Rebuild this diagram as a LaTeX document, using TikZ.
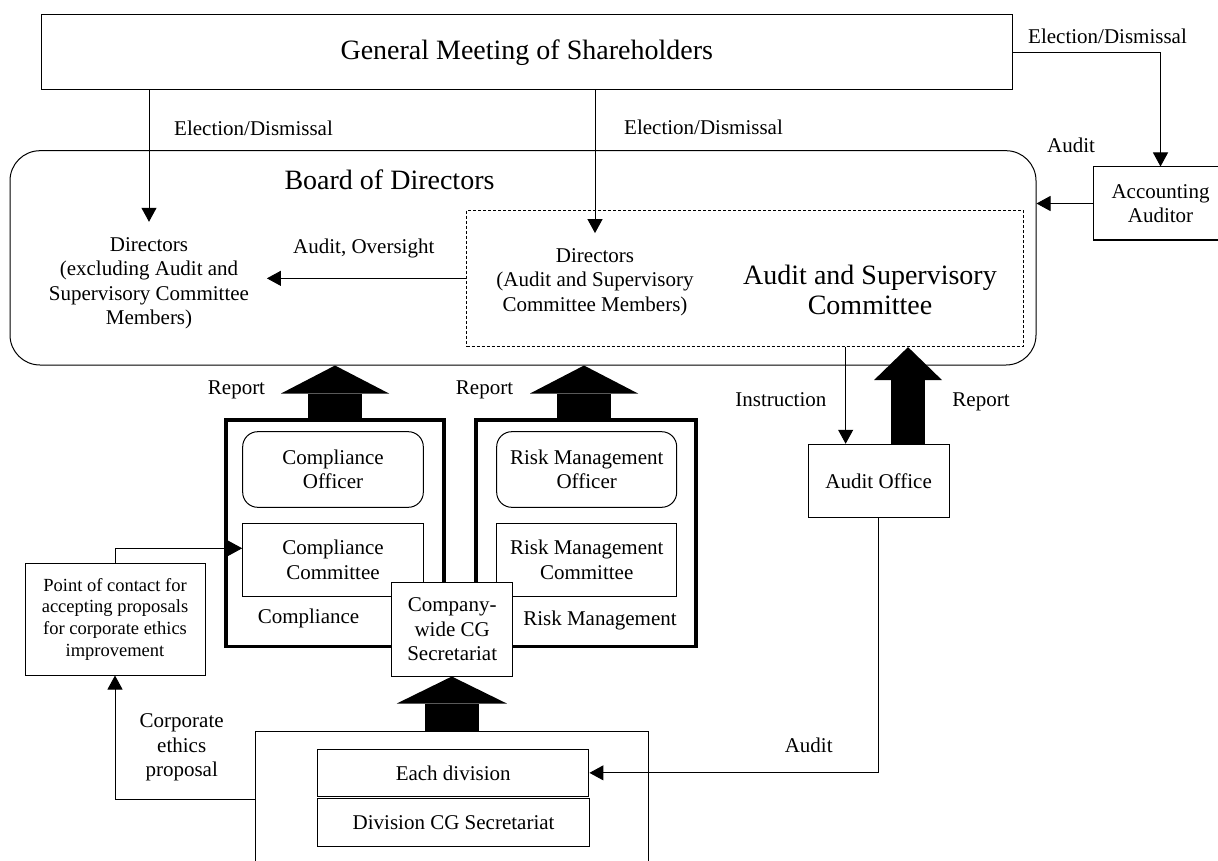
\documentclass[tikz,border=0pt]{standalone}
\usepackage{fontspec}
\setmainfont{Liberation Serif}
\usetikzlibrary{arrows.meta}
\newcommand\fsn{\fontsize{21}{24.4}\selectfont}
\newcommand\fsl{\fontsize{28}{30}\selectfont}
\newcommand\fss{\fontsize{18.5}{21.7}\selectfont}
\begin{document}
\begin{tikzpicture}[x=1pt,y=-1pt,
  every node/.style={inner sep=0pt, align=center, font=\fsn},
  box/.style={draw, line width=1pt},
  thickbox/.style={draw, line width=3.3pt},
  arr/.style={line width=1pt, -{Triangle[width=15pt,length=14pt]}},
  fatA/.style={line width=54pt, -{Triangle[width=108pt,length=28pt,line width=0pt]}},
  fatB/.style={line width=34pt, -{Triangle[width=68pt,length=33pt,line width=0pt]}},
  fatC/.style={line width=54.6pt, -{Triangle[width=110pt,length=27pt,line width=0pt]}}
]
\useasboundingbox (0,0) rectangle (1218,861);

% top
\node[box, minimum width=970.5pt, minimum height=75pt, font=\fsl] (gms) at (526.75,52.5) {General Meeting of Shareholders};
\node[box, rounded corners=30pt, minimum width=1026pt, minimum height=214.3pt] (board) at (523,257.85) {};
\node[font=\fsl] (boardt) at (389.5,180) {Board of Directors};
\node[draw, line width=0.8pt, dash pattern=on 3pt off 2pt, minimum width=556.3pt, minimum height=136.7pt] (dash) at (744.85,278.35) {};
\node[minimum width=235.4pt, minimum height=122.8pt] (dirL) at (149,283.4) {Directors\\(excluding Audit and\\Supervisory Committee\\Members)};
\node[minimum height=97.4pt] (dirM) at (595,282) {Directors\\(Audit and Supervisory\\Committee Members)};
\node[font=\fsl] (asc) at (870,290) {Audit and Supervisory\\Committee};
\node[box, minimum width=135pt, minimum height=73pt] (aa) at (1160.5,203.5) {Accounting\\Auditor};

\node[anchor=west] (l1) at (174,128) {Election/Dismissal};
\node[anchor=west] (l2) at (624,127) {Election/Dismissal};
\node[anchor=west] (l3) at (1028,36) {Election/Dismissal};
\node[anchor=west] (l4) at (1047,145) {Audit};
\node[anchor=west] (l5) at (293,248.3) {Audit, Oversight};

\draw[arr] (gms.south -| dirL.north) -- (dirL.north);
\draw[arr] (gms.south -| dirM.north) -- (dirM.north);
\draw[arr] (gms.east) -| (aa.north);
\draw[arr] (aa.west) -- (aa.west -| board.east);
\draw[arr] (dash.west) -- (dash.west -| dirL.east);

% middle
\node[thickbox, minimum width=218pt, minimum height=226.7pt] (comp) at (335,533.35) {};
\node[thickbox, minimum width=220pt, minimum height=226.7pt] (risk) at (586,533.35) {};
\node[box, rounded corners=15pt, minimum width=180.6pt, minimum height=75.6pt] (compOff) at (333,469.5) {Compliance\\Officer};
\node[box, minimum width=180.6pt, minimum height=72.7pt] (compCom) at (333,559.65) {Compliance\\Committee};
\node[box, rounded corners=15pt, minimum width=180pt, minimum height=75.6pt] (riskOff) at (586.7,469.5) {Risk Management\\Officer};
\node[box, minimum width=180pt, minimum height=72.7pt] (riskCom) at (586.7,559.65) {Risk Management\\Committee};
\node (compL) at (308.5,618.3) {Compliance};
\node (riskL) at (600,620) {Risk Management};
\node[box, fill=white, minimum width=121pt, minimum height=93.3pt] (cgs) at (452.2,629.35) {Company-\\wide CG\\Secretariat};

\draw[fatA] (comp.north) -- (comp.north |- board.south);
\path ([xshift=-2pt]risk.north) coordinate (riskTop);
\draw[fatA] (riskTop) -- (riskTop |- board.south);
\node (rep1) at (236.5,390) {Report};
\node (rep2) at (484.5,390) {Report};

% point of contact
\node[box, minimum width=180pt, minimum height=111.7pt, font=\fss] (poc) at (115,619.15) {Point of contact for\\accepting proposals\\for corporate ethics\\improvement};
\draw[arr] (poc.north) |- ([yshift=11.35pt]compCom.west);

% bottom
\node[box, minimum width=392.8pt, minimum height=134.6pt] (bot) at (451.8,799) {};
\node[box, minimum width=271.5pt, minimum height=47.7pt] (ediv) at (453.2,772.85) {Each division};
\node[box, minimum width=271.5pt, minimum height=48.4pt] (dcg) at (453.6,822.5) {Division CG Secretariat};
\draw[fatC] (bot.north) -- (bot.north |- cgs.south);
\draw[arr] (bot.west) -| (poc.south);
\node (eth) at (181.7,747.3) {Corporate\\ethics\\proposal};

% audit office
\node[box, minimum width=140.7pt, minimum height=73.4pt] (ao) at (878.65,481) {Audit Office};
\path ([xshift=-33pt]ao.north) coordinate (aoL);
\path ([xshift=29.35pt]ao.north) coordinate (aoR);
\draw[arr] (aoL |- dash.south) -- (aoL);
\draw[fatB] (aoR) -- (aoR |- dash.south);
\node (instr) at (780.85,400) {Instruction};
\node (rep3) at (981,401.7) {Report};
\draw[arr] (ao.south) |- (ediv.east);
\node (audl) at (808.7,745) {Audit};
\end{tikzpicture}
\end{document}
